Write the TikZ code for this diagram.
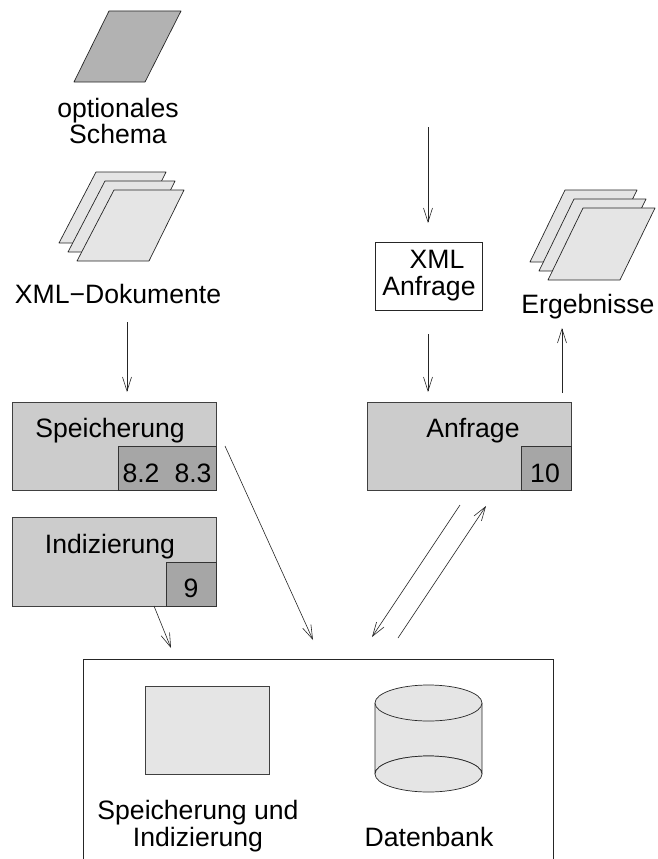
\documentclass[tikz,border=0pt]{standalone}
\usepackage{fontspec}
\setmainfont{Liberation Sans}
\usetikzlibrary{arrows.meta,calc}

\begin{document}
\begin{tikzpicture}[x=1pt,y=-1pt,
        every node/.style={inner sep=0pt,outer sep=0pt},
        txt/.style={font=\fontsize{26.6}{26.5}\selectfont,anchor=base,align=center},
        boxgrau/.style={draw=black!75,line width=0.8pt,fill=black!20},
        boxdunkel/.style={draw=black!80,line width=0.8pt,fill=black!35},
        blatt/.style={draw=black!85,line width=0.7pt,fill=black!10,line join=round},
        pfeil/.style={draw=black!85,line width=0.6pt,-{Straight Barb[length=14pt,width=9pt,line width=0.6pt]}}]
        \useasboundingbox (0,0) rectangle (657,859);
        % schema
        \draw[blatt,fill=black!30] (109,11) -- (181,11) -- (145,82) -- (74,82) -- cycle;
        \node[txt] (schema) at (118,143.5) {optionales\\Schema};
        % dokumente
        \foreach \d in {0,9,18} {
          \draw[blatt] (96+\d,172+\d) -- (166+\d,172+\d) -- (131+\d,243+\d) -- (59+\d,243+\d) -- cycle;
        }
        \node[txt] (dokumente) at (118,303) {XML−Dokumente};
        % ergebnisse
        \foreach \d in {0,9,18} {
          \draw[blatt] (565+\d,190+\d) -- (637+\d,190+\d) -- (602+\d,262+\d) -- (530+\d,262+\d) -- cycle;
        }
        \node[txt] (ergebnisse) at (588,313) {Ergebnisse};
        % speicherung
        \node[boxgrau,minimum width=204pt,minimum height=88pt] (speicherbox) at (114,446) {};
        \node[boxdunkel,minimum width=98pt,minimum height=44pt] (speichernr) at (167,468) {};
        \node[txt] (speicherung) at (110,437) {Speicherung};
        \node[txt] (nr82) at (141,482) {8.2};
        \node[txt] (nr83) at (193,482) {8.3};
        % indizierung
        \node[boxgrau,minimum width=204pt,minimum height=89pt] (indexbox) at (114,561.5) {};
        \node[boxdunkel,minimum width=50pt,minimum height=44pt] (indexnr) at (191,584) {};
        \node[txt] (indizierung) at (110,553) {Indizierung};
        \node[txt] (nr9) at (191,597) {9};
        % anfrage
        \node[draw=black!85,line width=0.8pt,minimum width=107pt,minimum height=68pt] (xmlbox) at (428.5,276) {};
        \node[txt] (xml) at (437,268) {XML};
        \node[txt] (xmlanfrage) at (429,295) {Anfrage};
        \node[boxgrau,minimum width=204pt,minimum height=88pt] (anfragebox) at (469,446) {};
        \node[boxdunkel,minimum width=50pt,minimum height=44pt] (anfragenr) at (546,468) {};
        \node[txt] (anfrage) at (473,437) {Anfrage};
        \node[txt] (nr10) at (545,482) {10};
        % system
        \coordinate (sys) at (83,659);
        \draw[draw=black!85,line width=0.8pt] (83,860) -- (sys) -- (553,659) -- (553,860);
        \node[boxgrau,fill=black!10,minimum width=124pt,minimum height=88pt] (speicher) at (207,730) {};
        \draw[blatt] (375,703) -- (375,774) arc[start angle=180,end angle=360,x radius=53.5,y radius=18] -- (482,703);
        \draw[blatt] (428.5,774) ellipse[x radius=53.5,y radius=18];
        \draw[blatt] (428.5,703) ellipse[x radius=53.5,y radius=18];
        \node[txt] (speichertxt) at (198,846) {Speicherung und\\Indizierung};
        \node[txt] (datenbank) at (429,846) {Datenbank};
        % pfeile
        \coordinate (start) at (428,127);
        \draw[pfeil] ($(dokumente.base)+(9,19)$) -- ($(speicherbox.north)+(13,-10)$);
        \draw[pfeil] (start) -- ($(xmlbox.north)+(-0.5,-19)$);
        \draw[pfeil] ($(xmlbox.south)+(-0.5,24)$) -- ($(anfragebox.north)+(-41,-10)$);
        \draw[pfeil] ($(anfragebox.north)+(93,-9)$) -- ($(ergebnisse.base)+(-26,15)$);
        \draw[pfeil] ($(speicherbox.east)+(9,0)$) -- ($(sys)+(230,-19)$);
        \draw[pfeil] ($(indexbox.south)+(40,0)$) -- ($(sys)+(88,-11)$);
        \draw[pfeil] ($(anfragebox.south)+(-9,15)$) -- ($(sys)+(289,-22)$);
        \draw[pfeil] ($(sys)+(315,-21)$) -- ($(anfragebox.south)+(17,16)$);
\end{tikzpicture}
\end{document}
